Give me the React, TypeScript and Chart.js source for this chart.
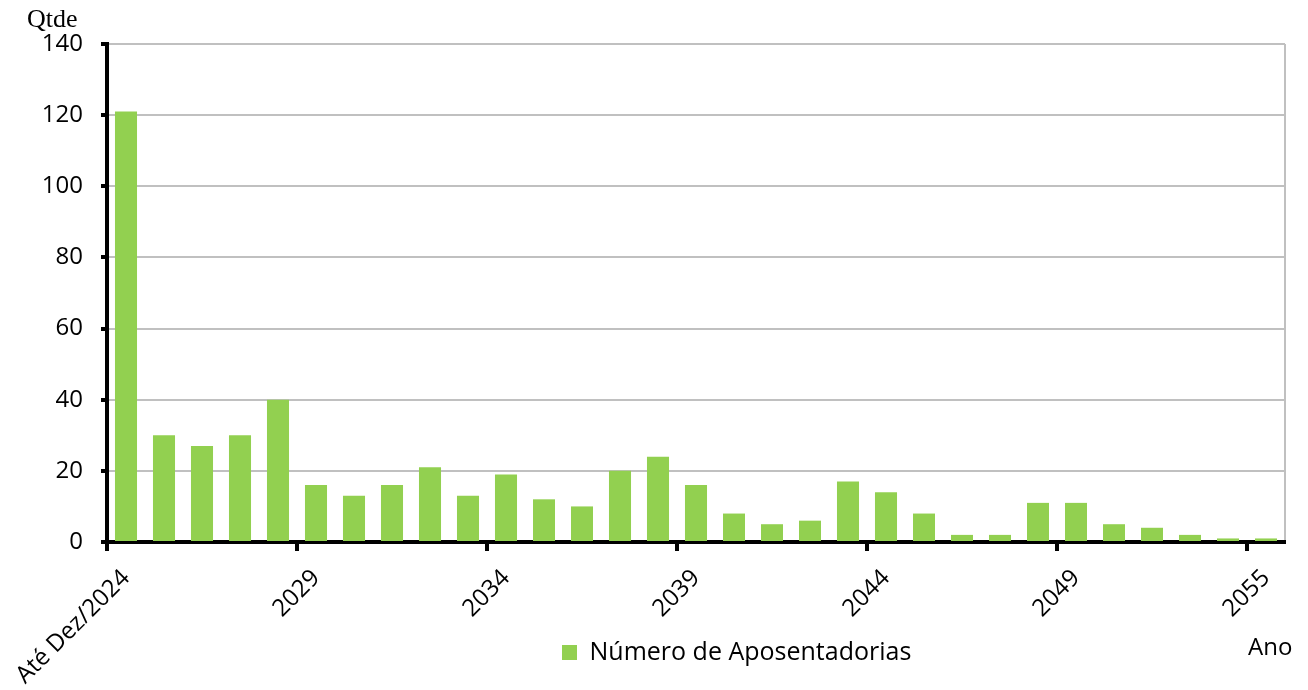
import React, { useEffect, useRef } from "react";
import { Chart, registerables } from "chart.js";

Chart.register(...registerables);

const categories: string[] = [
  "Até Dez/2024", "2025", "2026", "2027", "2028", "2029", "2030", "2031", "2032", "2033",
  "2034", "2035", "2036", "2037", "2038", "2039", "2040", "2041", "2042", "2043",
  "2044", "2045", "2046", "2047", "2048", "2049", "2050", "2051", "2052", "2053", "2055",
];

const aposentadorias: number[] = [
  121, 30, 27, 30, 40, 16, 13, 16, 21, 13,
  19, 12, 10, 20, 24, 16, 8, 5, 6, 17,
  14, 8, 2, 2, 11, 11, 5, 4, 2, 1, 1,
];

const xTickLabels: string[] = ["Até Dez/2024", "2029", "2034", "2039", "2044", "2049", "2055"];

const yMin = 0;
const yMax = 140;
const yStep = 20;

const seriesLabel = "Número de Aposentadorias";
const yTitle = "Qtde";
const xTitle = "Ano";

const FONT = '"Open Sans", "Liberation Sans", Arial, sans-serif';

export default function App() {
  const canvasRef = useRef<HTMLCanvasElement | null>(null);

  useEffect(() => {
    if (!canvasRef.current) return;

    const extraText = {
      id: "extraText",
      afterLayout(chart: any) {
        const lg = chart.legend;
        if (lg) {
          const W = Math.max(lg.right - lg.left, 420);
          const H = Math.max(lg.bottom - lg.top, 50);
          lg.left = 552;
          lg.right = 552 + W;
          lg.top = 630;
          lg.bottom = 630 + H;
          lg.width = W;
          lg.height = H;
        }
      },
      afterDraw(chart: any) {
        const ctx = chart.ctx;
        ctx.save();
        ctx.fillStyle = "#000";
        ctx.textAlign = "left";
        ctx.textBaseline = "alphabetic";
        ctx.font = '26px "Liberation Serif", "Times New Roman", serif';
        ctx.fillText(yTitle, 27, 27);
        ctx.font = "24px " + FONT;
        ctx.fillText(xTitle, 1248, 655);
        ctx.restore();
      },
    };

    const isShown = (i: number | undefined) =>
      i !== undefined && xTickLabels.includes(categories[i]);

    const chart = new Chart(canvasRef.current, {
      type: "bar",
      data: {
        labels: categories,
        datasets: [
          {
            label: seriesLabel,
            data: aposentadorias,
            backgroundColor: "#92D050",
            borderWidth: 0,
            barPercentage: 0.58,
            categoryPercentage: 1,
          },
        ],
      },
      options: {
        responsive: true,
        maintainAspectRatio: false,
        animation: false,
        layout: { padding: { top: 44, right: 23, left: 0, bottom: 0 } },
        plugins: {
          tooltip: { enabled: false },
          legend: {
            display: true,
            position: "chartArea",
            align: "start",
            labels: {
              boxWidth: 15,
              boxHeight: 15,
              padding: 10,
              color: "#000",
              font: { family: FONT, size: 25 },
            },
          },
        },
        scales: {
          x: {
            type: "category",
            offset: true,
            afterFit: (s: any) => {
              s.height = 148;
              s.paddingLeft = 0;
              s.paddingRight = 0;
            },
            border: { display: true, color: "#000", width: 4 },
            grid: {
              offset: true,
              drawOnChartArea: true,
              drawTicks: true,
              tickLength: 9,
              tickWidth: 4,
              lineWidth: 2,
              color: (c: any) => (c.index === undefined ? "#c0c0c0" : "rgba(0,0,0,0)"),
              tickColor: (c: any) => (isShown(c.index) ? "#000" : "rgba(0,0,0,0)"),
            },
            ticks: {
              autoSkip: false,
              maxRotation: 45,
              minRotation: 45,
              padding: 13,
              color: "#000",
              font: { family: FONT, size: 24 },
              callback: (_v: any, i: number) => (isShown(i) ? categories[i] : ""),
            },
          },
          y: {
            min: yMin,
            max: yMax,
            afterFit: (s: any) => {
              s.width = 107;
              s.paddingTop = 0;
              s.paddingBottom = 0;
            },
            border: { display: true, color: "#000", width: 4 },
            grid: {
              color: "#c0c0c0",
              lineWidth: 2,
              drawTicks: true,
              tickLength: 6,
              tickWidth: 4,
              tickColor: "#000",
            },
            ticks: {
              stepSize: yStep,
              padding: 18,
              color: "#000",
              font: { family: FONT, size: 24 },
            },
          },
        },
      },
      plugins: [extraText],
    });

    return () => chart.destroy();
  }, []);

  return (
    <div style={{ position: "absolute", left: 0, top: 0, width: 1308, height: 690 }}>
      <canvas ref={canvasRef} />
    </div>
  );
}
